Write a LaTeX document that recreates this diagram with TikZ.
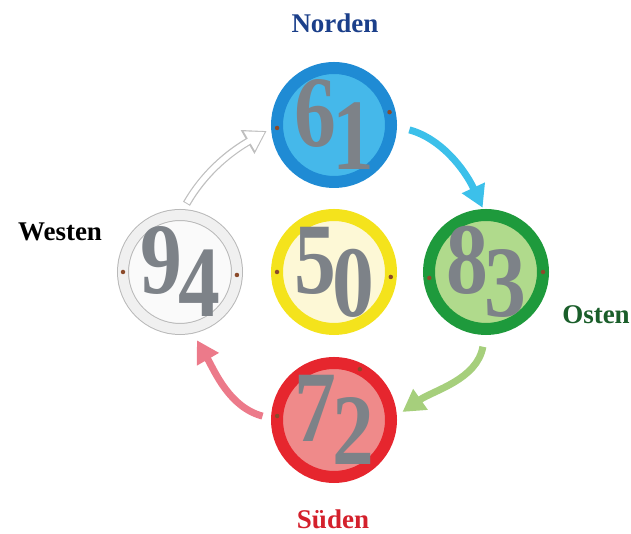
\documentclass[tikz,border=0pt]{standalone}
\usepackage{fontspec}
\setmainfont{Liberation Serif}
\usetikzlibrary{arrows.meta}
\definecolor{nordblue}{HTML}{1B3F8A}
\definecolor{ostgreen}{HTML}{1A5E2A}
\definecolor{suedred}{HTML}{D4202C}
\definecolor{numgray}{HTML}{7D8288}
\definecolor{rivetbrown}{HTML}{8B4A2A}
\definecolor{bluering}{HTML}{1F8BD4}
\definecolor{bluefill}{HTML}{45B8EA}
\definecolor{yellowring}{HTML}{F4E31C}
\definecolor{yellowfill}{HTML}{FDF8D6}
\definecolor{greenring}{HTML}{1E9A3C}
\definecolor{greenfill}{HTML}{B0DA8C}
\definecolor{redring}{HTML}{E6262E}
\definecolor{redfill}{HTML}{EF8A8A}
\definecolor{cyanarrow}{HTML}{3CC0EA}
\definecolor{greenarrow}{HTML}{A6CF7C}
\definecolor{pinkarrow}{HTML}{EC7A8A}
\newcommand{\twodigits}[2]{\scalebox{0.95}[1.15]{\raisebox{16pt}{#1}\kern-4pt\raisebox{-4pt}{#2}}}
\begin{document}
\begin{tikzpicture}[x=1pt,y=1pt,
    coin/.style={circle,minimum size=114pt,line width=12pt,outer sep=0pt,inner sep=0pt},
    digits/.style={text=numgray,inner sep=0pt,font=\bfseries\fontsize{88}{88}\selectfont},
    rivet/.style={circle,fill=rivetbrown,inner sep=0pt,minimum size=4.5pt},
    turn/.style={line width=7pt,-{Triangle[length=22pt,width=24pt]}},
    compass/.style={inner sep=1pt,font=\bfseries\fontsize{27}{27}\selectfont}]
  \useasboundingbox (0,0) rectangle (631,534);
  % the five coins
  \node[coin,draw=bluering,fill=bluefill] (blue) at (334,409) {};
  \node[coin,draw=yellowring,fill=yellowfill] (yellow) at (334,262) {};
  \node[coin,draw=greenring,fill=greenfill] (green) at (486,262) {};
  \node[coin,draw=redring,fill=redfill] (red) at (334,114) {};
  \node[coin,line width=1pt,draw=gray!55,double=gray!12,double distance=10pt,fill=gray!4] (white) at (180,262) {};
  % numbers
  \node[digits] (n61) at (blue) {\twodigits{6}{1}};
  \node[digits] (n50) at (yellow) {\twodigits{5}{0}};
  \node[digits] (n83) at (green) {\twodigits{8}{3}};
  \node[digits] (n72) at (red) {\twodigits{7}{2}};
  \node[digits] (n94) at (white) {\twodigits{9}{4}};
  % rivets
  \node[rivet] (rb1) at (blue.183) {};
  \node[rivet] (rb2) at (blue.13) {};
  \node[rivet] (ry1) at (yellow.180) {};
  \node[rivet] (ry2) at (yellow.355) {};
  \node[rivet] (rg1) at (green.186) {};
  \node[rivet] (rg2) at (green.0) {};
  \node[rivet] (rr1) at (red.63) {};
  \node[rivet] (rr2) at (red.176) {};
  \node[rivet] (rw1) at (white.180) {};
  \node[rivet] (rw2) at (white.357) {};
  % arrows round the circle
  \draw[turn,color=cyanarrow,shorten <=19pt,shorten >=8pt] (blue.east) to[out=-15,in=115] (green.north);
  \draw[turn,color=greenarrow,shorten <=18pt,shorten >=14pt] (green.south) to[out=-100,in=35] (red.east);
  \draw[turn,color=pinkarrow,shorten <=15pt,shorten >=14pt] (red.west) to[out=165,in=-60] (white.-80);
  \draw[line width=8pt,gray!50,-{Triangle[length=22pt,width=26pt]},shorten <=13pt,shorten >=12pt] (white.north) to[out=60,in=210] (blue.west);
  \draw[line width=5.5pt,white,-{Triangle[length=18pt,width=21pt]},shorten <=14pt,shorten >=14pt] (white.north) to[out=60,in=210] (blue.west);
  % labels
  \node[compass,text=nordblue] (north) at (335,511) {Norden};
  \node[compass,text=ostgreen] (east) at (596,219) {Osten};
  \node[compass,text=suedred] (south) at (333,15) {Süden};
  \node[compass,text=black] (west) at (60,302) {Westen};
\end{tikzpicture}
\end{document}
